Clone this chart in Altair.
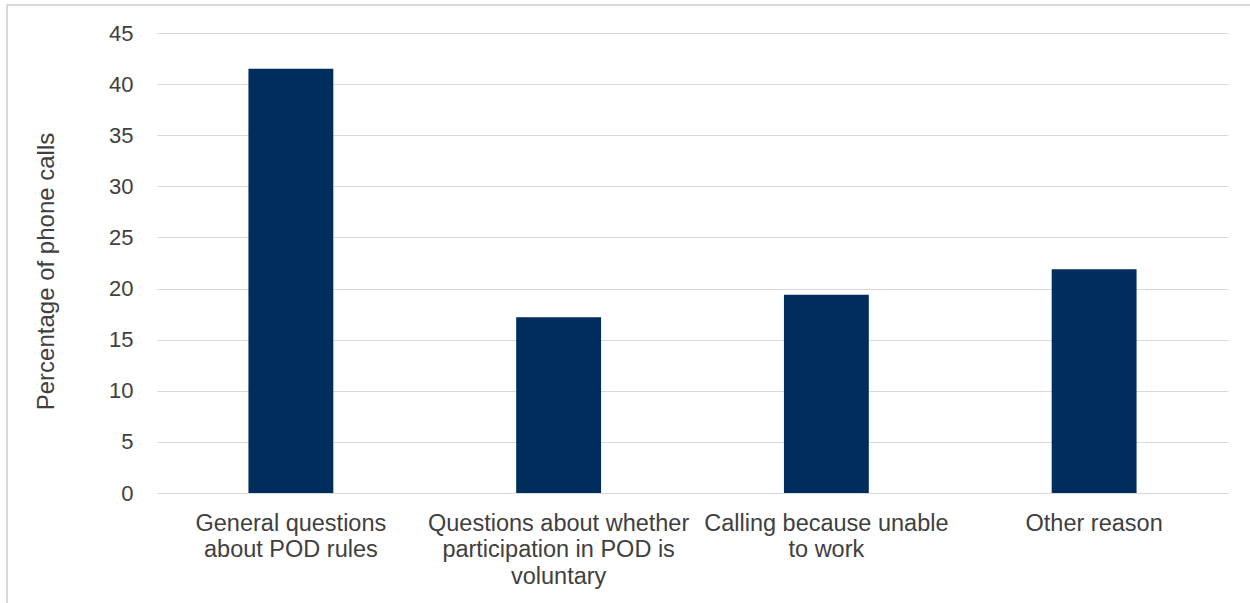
import altair as alt
import pandas as pd

# Reasons for calling, with line breaks where the axis labels wrap
categories = [
    "General questions\nabout POD rules",
    "Questions about whether\nparticipation in POD is\nvoluntary",
    "Calling because unable\nto work",
    "Other reason",
]
percentages = [41.5, 17.2, 19.4, 21.9]
y_ticks = [0, 5, 10, 15, 20, 25, 30, 35, 40, 45]

df = pd.DataFrame({"reason": categories, "pct": percentages})

FONT = "Liberation Sans"
TEXT = "#404040"
GRID = "#D9D9D9"

bars = alt.Chart(df).mark_bar(color="#002D5C").encode(
    x=alt.X(
        "reason:N",
        sort=categories,
        title=None,
        scale=alt.Scale(paddingInner=0.683, paddingOuter=0.3415),
        axis=alt.Axis(
            labelAngle=0,
            labelExpr="split(datum.label, '\\n')",
            labelFont=FONT,
            labelFontSize=23.5,
            labelColor=TEXT,
            labelLineHeight=26.5,
            labelPadding=18,
            labelLimit=400,
            ticks=False,
            domain=True,
            domainColor=GRID,
            grid=False,
        ),
    ),
    y=alt.Y(
        "pct:Q",
        title="Percentage of phone calls",
        scale=alt.Scale(domain=[0, 45], nice=False),
        axis=alt.Axis(
            values=y_ticks,
            labelFont=FONT,
            labelFontSize=22,
            labelColor=TEXT,
            labelPadding=24,
            ticks=False,
            domain=False,
            grid=True,
            gridColor=GRID,
            gridWidth=1,
            titleFont=FONT,
            titleFontSize=24,
            titleFontWeight="normal",
            titleColor=TEXT,
            titleX=-111,
            titleY=238,
            titleAlign="center",
            titleBaseline="middle",
        ),
    ),
)

# Light frame around the whole figure
frame = alt.Chart(df).mark_rect(
    fill=None, stroke=GRID, strokeWidth=2, clip=False
).encode(
    x=alt.value(-150), x2=alt.value(1200),
    y=alt.value(-28), y2=alt.value(700),
)

chart = (
    alt.layer(frame, bars)
    .properties(
        width=1071,
        height=460,
        padding={"left": 157, "top": 33, "right": 22, "bottom": 110},
        autosize=alt.AutoSizeParams(type="none"),
        background="white",
    )
    .configure_view(stroke=None)
)

chart.save("out.html", embed_options={"renderer": "svg", "actions": False})
